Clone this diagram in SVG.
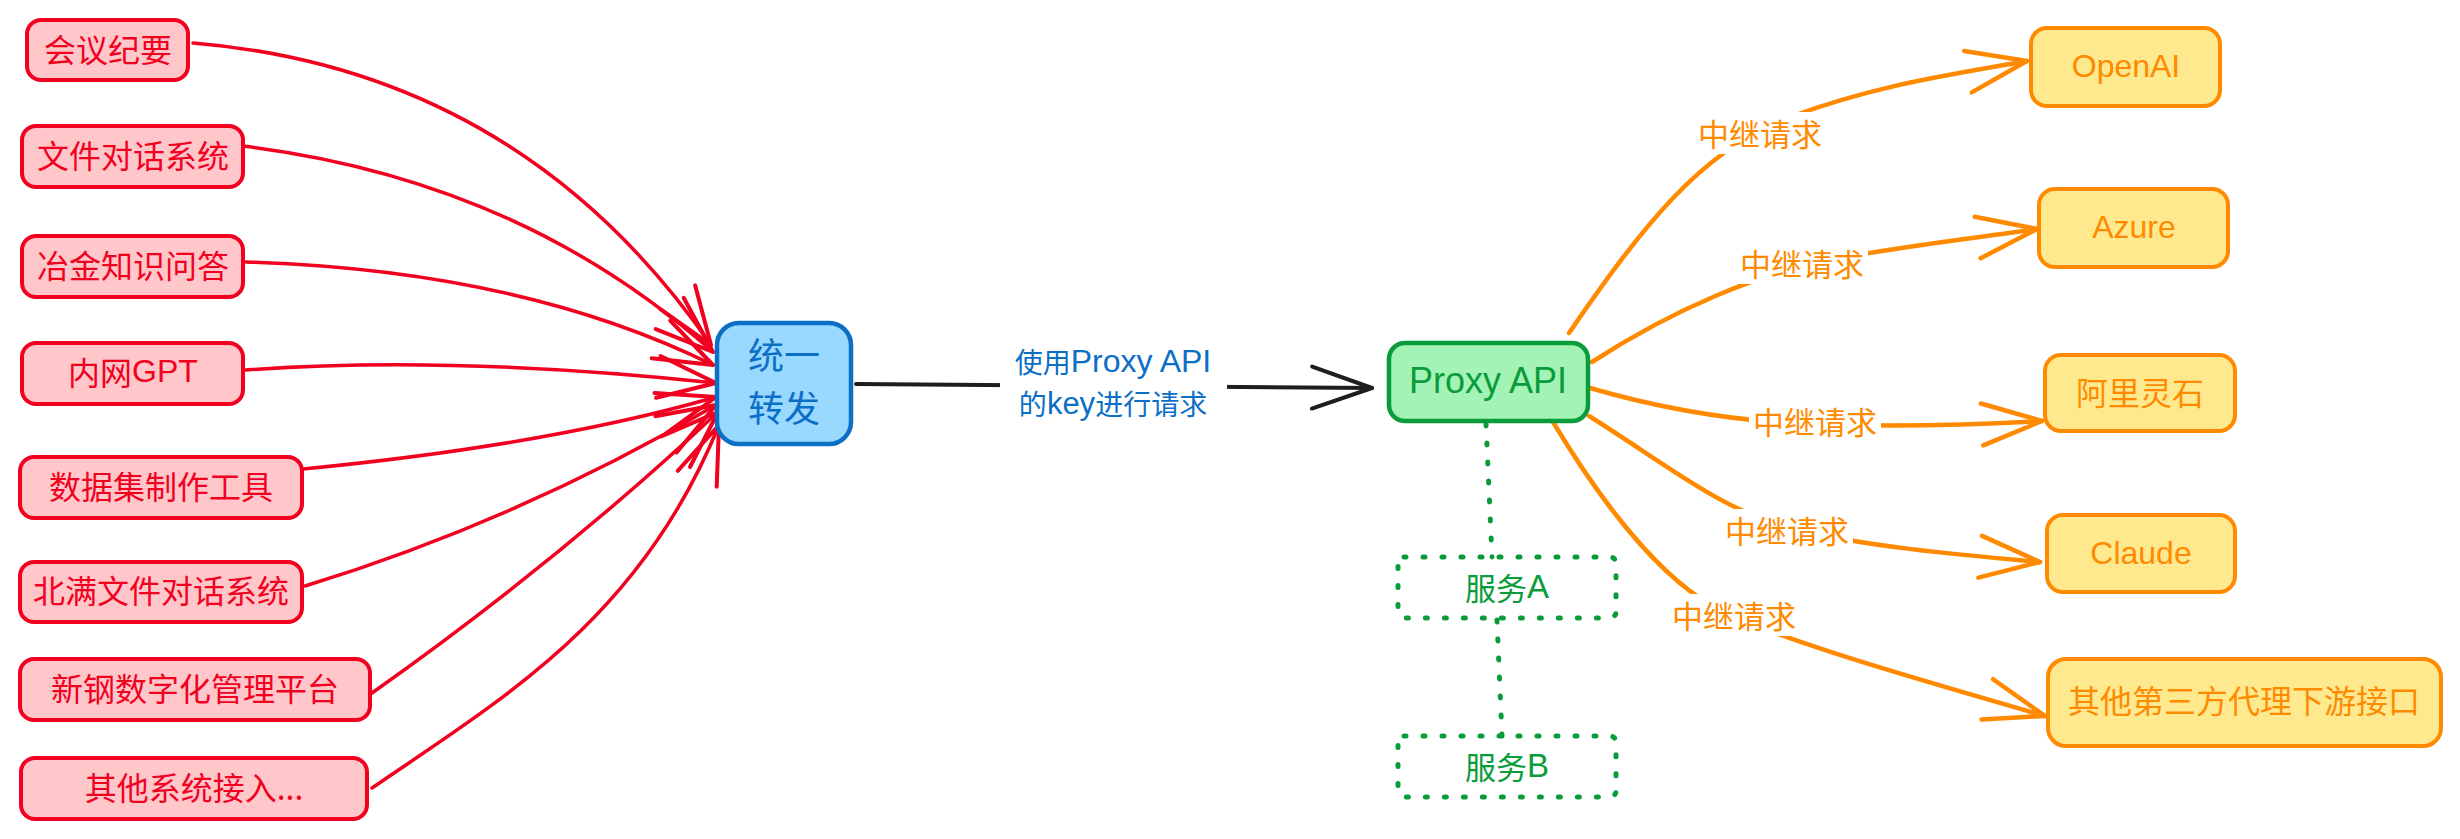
<svg xmlns="http://www.w3.org/2000/svg" width="2460" height="839" viewBox="0 0 2460 839">
<defs>
<style>
.cjk{font-family:"Noto Sans CJK SC","Liberation Sans",sans-serif;}
.lat{font-family:"Liberation Sans","Noto Sans CJK SC",sans-serif;}
.rbox{fill:#ffc7c9;stroke:#f2001f;stroke-width:4;}
.rtxt{fill:#f2001f;font-size:32px;text-anchor:middle;dominant-baseline:central;}
.ybox{fill:#ffe98f;stroke:#ff8a00;stroke-width:4;}
.ytxt{fill:#ff8a00;font-size:32px;text-anchor:middle;}
.olab{fill:#ff8a00;font-size:31px;text-anchor:middle;dominant-baseline:central;}
.rline{fill:none;stroke:#f2001f;stroke-width:3.5;stroke-linecap:round;marker-end:url(#ar);}
.oline{fill:none;stroke:#ff8a00;stroke-width:4.5;stroke-linecap:round;marker-end:url(#ao);}
.dot{fill:none;stroke:#0a9c3b;stroke-width:5;stroke-linecap:round;stroke-dasharray:2 17;}
.gtxt{fill:#0a9c3b;font-size:31px;text-anchor:middle;dominant-baseline:central;}
</style>
<marker id="ar" viewBox="-64 -28 70 56" refX="0" refY="0" markerWidth="70" markerHeight="56" markerUnits="userSpaceOnUse" orient="auto" overflow="visible">
<path d="M-58,-21 L0,0 L-58,21" fill="none" stroke="#f2001f" stroke-width="4" stroke-linecap="round" stroke-linejoin="round"/>
</marker>
<marker id="ao" viewBox="-64 -28 70 56" refX="0" refY="0" markerWidth="70" markerHeight="56" markerUnits="userSpaceOnUse" orient="auto" overflow="visible">
<path d="M-60,-21 L0,0 L-60,21" fill="none" stroke="#ff8a00" stroke-width="4.5" stroke-linecap="round" stroke-linejoin="round"/>
</marker>
<marker id="ak" viewBox="-64 -28 70 56" refX="0" refY="0" markerWidth="70" markerHeight="56" markerUnits="userSpaceOnUse" orient="auto" overflow="visible">
<path d="M-60,-21 L0,0 L-60,21" fill="none" stroke="#1e1e1e" stroke-width="4" stroke-linecap="round" stroke-linejoin="round"/>
</marker>
</defs>
<rect width="2460" height="839" fill="#ffffff"/>

<g id="connectors">
<path class="rline" d="M193,43 Q520,70 711,345"/>
<path class="rline" d="M243,146 Q520,180 713,352"/>
<path class="rline" d="M246,262 Q520,270 713,365"/>
<path class="rline" d="M246,370 Q450,355 716,383"/>
<path class="rline" d="M303,469 Q550,445 716,397"/>
<path class="rline" d="M305,586 Q520,520 716,405"/>
<path class="rline" d="M372,693 Q560,560 718,412"/>
<path class="rline" d="M372,788 C500,700 640,620 719,425"/>

<path d="M856,384 L1372,388" fill="none" stroke="#1e1e1e" stroke-width="4" stroke-linecap="round" marker-end="url(#ak)"/>
<rect x="1000" y="338" width="227" height="86" fill="#ffffff"/>
<text class="cjk" x="1113" y="361" font-size="28" fill="#0b6fc6" text-anchor="middle" dominant-baseline="central">使用<tspan class="lat" font-size="32">Proxy API</tspan></text>
<text class="cjk" x="1113" y="403" font-size="28" fill="#0b6fc6" text-anchor="middle" dominant-baseline="central">的<tspan class="lat" font-size="31">key</tspan>进行请求</text>

<path class="oline" d="M1569,333 C1640,230 1700,150 1790,117 S1950,75 2027,61"/>
<path class="oline" d="M1592,362 C1680,305 1760,275 1820,262 S1960,240 2037,229"/>
<path class="oline" d="M1590,388 Q1700,420 1810,424 T2042,421"/>
<path class="oline" d="M1589,416 C1660,460 1720,510 1790,528 S1960,555 2040,562"/>
<path class="oline" d="M1553,422 C1600,500 1660,580 1720,610 S1920,680 2045,716"/>
<rect x="1694" y="112" width="132" height="42" fill="#ffffff"/>
<text class="cjk olab" x="1760" y="132">中继请求</text>
<rect x="1736" y="242" width="132" height="42" fill="#ffffff"/>
<text class="cjk olab" x="1802" y="262">中继请求</text>
<rect x="1749" y="400" width="132" height="42" fill="#ffffff"/>
<text class="cjk olab" x="1815" y="420">中继请求</text>
<rect x="1721" y="509" width="132" height="42" fill="#ffffff"/>
<text class="cjk olab" x="1787" y="529">中继请求</text>
<rect x="1668" y="594" width="132" height="42" fill="#ffffff"/>
<text class="cjk olab" x="1734" y="614">中继请求</text>

<path class="dot" d="M1486,424 L1492,557"/>
<path class="dot" d="M1497,620 L1502,736"/>
</g>

<g id="n-huiyi"><rect class="rbox" x="27" y="20" width="161" height="60" rx="14"/><text class="cjk rtxt" x="108" y="48">会议纪要</text></g>
<g id="n-wenjian"><rect class="rbox" x="22" y="126" width="221" height="61" rx="14"/><text class="cjk rtxt" x="133" y="154">文件对话系统</text></g>
<g id="n-yejin"><rect class="rbox" x="22" y="236" width="221" height="61" rx="14"/><text class="cjk rtxt" x="133" y="264">冶金知识问答</text></g>
<g id="n-neiwang"><rect class="rbox" x="22" y="343" width="221" height="61" rx="14"/><text class="cjk rtxt" x="133" y="371">内网<tspan class="lat">GPT</tspan></text></g>
<g id="n-shuju"><rect class="rbox" x="20" y="457" width="282" height="61" rx="14"/><text class="cjk rtxt" x="161" y="485">数据集制作工具</text></g>
<g id="n-beiman"><rect class="rbox" x="20" y="562" width="282" height="60" rx="14"/><text class="cjk rtxt" x="161" y="589">北满文件对话系统</text></g>
<g id="n-xingang"><rect class="rbox" x="20" y="659" width="350" height="61" rx="14"/><text class="cjk rtxt" x="195" y="687">新钢数字化管理平台</text></g>
<g id="n-qita"><rect class="rbox" x="21" y="758" width="346" height="61" rx="14"/><text class="cjk rtxt" x="194" y="786">其他系统接入...</text></g>

<g id="n-tongyi"><rect x="717" y="323" width="134" height="121" rx="22" fill="#99d8ff" stroke="#0b6fc6" stroke-width="4.5"/>
<text class="cjk" x="784" y="353" font-size="36" fill="#0b6fc6" text-anchor="middle" dominant-baseline="central">统一</text>
<text class="cjk" x="784" y="406" font-size="36" fill="#0b6fc6" text-anchor="middle" dominant-baseline="central">转发</text></g>

<g id="n-proxy"><rect x="1389" y="343" width="199" height="78" rx="16" fill="#a3f3b6" stroke="#0a9c3b" stroke-width="4.5"/>
<text class="lat" x="1488" y="393" font-size="36" fill="#0a9c3b" text-anchor="middle">Proxy API</text></g>

<g id="n-fuwuA"><rect class="dot" x="1398" y="557" width="218" height="61" rx="6"/><text class="cjk gtxt" x="1507" y="586">服务<tspan class="lat" font-size="33">A</tspan></text></g>
<g id="n-fuwuB"><rect class="dot" x="1398" y="736" width="218" height="61" rx="6"/><text class="cjk gtxt" x="1507" y="765">服务<tspan class="lat" font-size="33">B</tspan></text></g>

<g id="n-openai"><rect class="ybox" x="2031" y="28" width="189" height="78" rx="16"/><text class="lat ytxt" x="2126" y="77">OpenAI</text></g>
<g id="n-azure"><rect class="ybox" x="2039" y="189" width="189" height="78" rx="16"/><text class="lat ytxt" x="2134" y="238">Azure</text></g>
<g id="n-ali"><rect class="ybox" x="2045" y="355" width="190" height="76" rx="16"/><text class="cjk ytxt" x="2140" y="391" dominant-baseline="central">阿里灵石</text></g>
<g id="n-claude"><rect class="ybox" x="2047" y="515" width="188" height="77" rx="16"/><text class="lat ytxt" x="2141" y="564">Claude</text></g>
<g id="n-other"><rect class="ybox" x="2048" y="659" width="393" height="87" rx="18"/><text class="cjk ytxt" x="2244" y="699" dominant-baseline="central">其他第三方代理下游接口</text></g>
</svg>
